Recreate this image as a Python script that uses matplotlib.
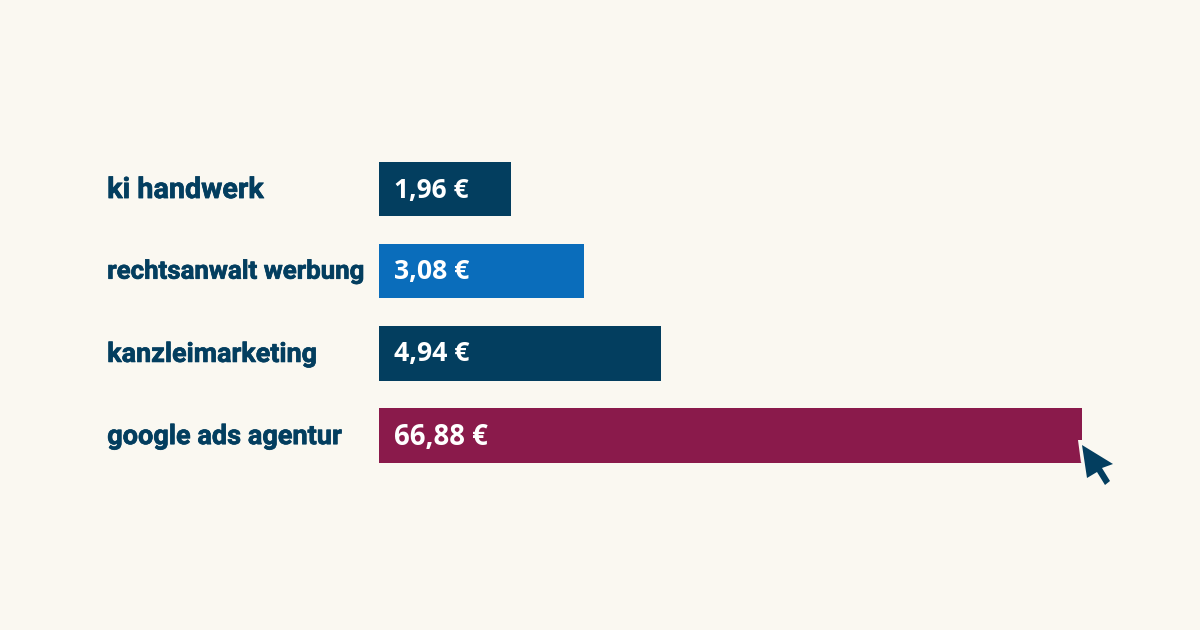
#!/usr/bin/env python3
"""Keyword click prices as horizontal bars on a log axis, no axis furniture."""
import matplotlib

matplotlib.use("Agg")
import matplotlib.patheffects as pe
import matplotlib.pyplot as plt
from matplotlib.patches import Polygon
from matplotlib.transforms import Affine2D

keywords = ["ki handwerk", "rechtsanwalt werbung", "kanzleimarketing", "google ads agentur"]
prices = [1.96, 3.08, 4.94, 66.88]
price_labels = ["1,96 €", "3,08 €", "4,94 €", "66,88 €"]

BG = "#FAF8F1"
NAVY = "#033E5F"
BLUE = "#0A6DBB"
MAROON = "#8A1A4B"
bar_colors = [NAVY, BLUE, NAVY, MAROON]
kw_sizes = [20.7, 18.6, 19.4, 19.5]
price_sizes = [19, 19.2, 19.2, 19.8]

# log axis: the bars start a bit under 1 euro
BASE = 0.865

W, H = 1200, 630
fig = plt.figure(figsize=(W / 100, H / 100), dpi=100, facecolor=BG)
ax = fig.add_axes([0, 0, 1, 1])
ax.set_facecolor(BG)
ax.set_xscale("log")
ax.set_xlim(0.0827, 139.2)
ax.set_ylim(5.365, -2.300)
ax.axis("off")

ys = list(range(len(keywords)))
widths = [p - BASE for p in prices]
ax.barh(ys, widths, left=BASE, height=0.66, color=bar_colors, linewidth=0)

# text sits at fixed pixel offsets from the left edge of the bars
heavier = [pe.withStroke(linewidth=0.5, foreground=NAVY)]
for y, kw, lab, ks, ps in zip(ys, keywords, price_labels, kw_sizes, price_sizes):
    ax.annotate(kw, (BASE, y), xytext=(-272, 2), textcoords="offset pixels",
                ha="left", va="center_baseline", color=NAVY, fontsize=ks,
                family="Roboto", fontweight="bold", path_effects=heavier)
    ax.annotate(lab, (BASE, y), xytext=(15, 2), textcoords="offset pixels",
                ha="left", va="center_baseline", color="white", fontsize=ps,
                family="Open Sans", fontweight="bold")

# mouse pointer at the end of the longest bar, in image pixels
to_px = Affine2D().scale(1, -1).translate(0, H)
cursor = [(1082, 445), (1113, 464), (1102, 468), (1110, 481), (1105, 485),
          (1097, 472), (1087, 478)]
halo = [(1078, 440), (1082, 440), (1084, 462), (1081, 463)]
fig.add_artist(Polygon(halo, closed=True, color=BG, lw=0, transform=to_px))
fig.add_artist(Polygon(cursor, closed=True, color=NAVY, lw=0, transform=to_px))

fig.savefig("out.png", dpi=100, facecolor=BG)
